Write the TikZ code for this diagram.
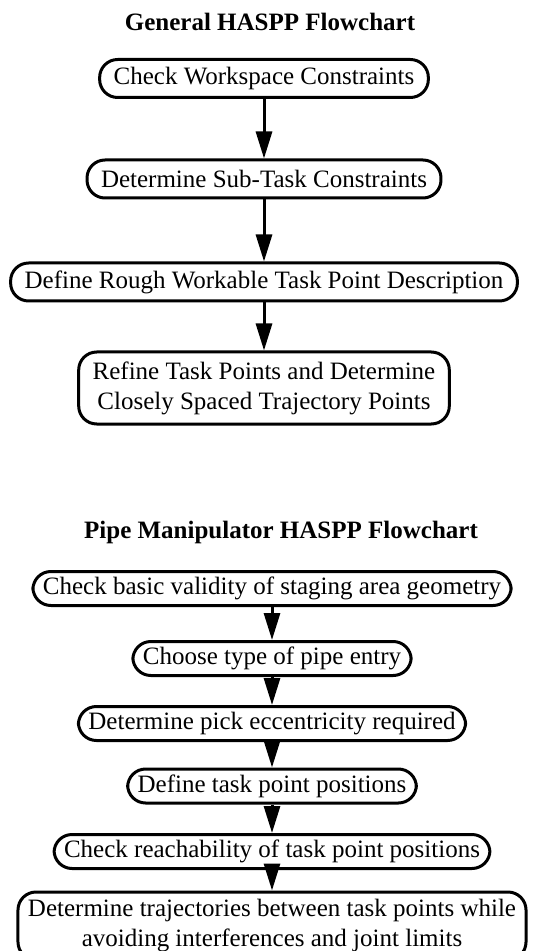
\documentclass[tikz,border=0pt]{standalone}
\usepackage{fontspec}
\setmainfont{Liberation Serif}
\usetikzlibrary{arrows.meta}

\tikzset{
  stepbox/.style={draw, line width=1.5pt, rounded corners=9pt, align=center,
    font=\fontsize{12.5}{15}\selectfont, inner xsep=7pt, inner ysep=2pt,
    minimum height=19pt},
  pipebox/.style={stepbox, inner xsep=5pt, minimum height=17pt},
  flow/.style={line width=1.5pt, -{Triangle[length=13.5pt,width=8pt]}},
  heading/.style={font=\fontsize{12.5}{15}\selectfont\bfseries, anchor=base}
}

\begin{document}
\begin{tikzpicture}[x=0.5pt,y=-0.5pt]
	\useasboundingbox (0,0) rectangle (548,951);
	% general chart
	\node[heading] (gentitle) at (270,31) {General HASPP Flowchart};
	\node[stepbox] (workspace) at (264,78.5) {Check Workspace Constraints};
	\node[stepbox] (subtask) at (264,179) {Determine Sub-Task Constraints};
	\node[stepbox] (rough) at (264,282) {Define Rough Workable Task Point Description};
	\node[stepbox, minimum height=36pt] (refine) at (264,388)
		{Refine Task Points and Determine\\Closely Spaced Trajectory Points};
	\draw[flow] (workspace) -- (subtask);
	\draw[flow] (subtask) -- (rough);
	\draw[flow] (rough) -- (refine);
	% pipe manipulator chart
	\node[heading] (pipetitle) at (281,538) {Pipe Manipulator HASPP Flowchart};
	\node[pipebox] (staging) at (272,588.5) {Check basic validity of staging area geometry};
	\node[pipebox] (entry) at (272,658.5) {Choose type of pipe entry};
	\node[pipebox] (eccent) at (272,723.5) {Determine pick eccentricity required};
	\node[pipebox] (taskpos) at (272,786) {Define task point positions};
	\node[pipebox] (reach) at (272,851.5) {Check reachability of task point positions};
	\node[pipebox, minimum height=34pt] (traj) at (272,926)
		{Determine trajectories between task points while\\avoiding interferences and joint limits};
	\foreach \a/\b in {staging/entry, entry/eccent, eccent/taskpos, taskpos/reach, reach/traj}
		\draw[flow] (\a) -- (\b);
\end{tikzpicture}
\end{document}
